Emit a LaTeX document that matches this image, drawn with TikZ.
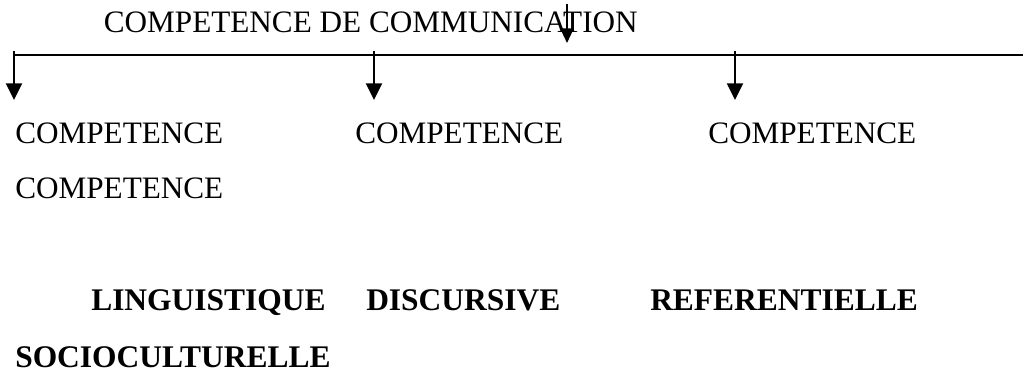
\documentclass[tikz,border=0pt]{standalone}
\usepackage{fontspec}
\setmainfont{Liberation Serif}
\usetikzlibrary{arrows.meta}
\tikzset{
  caption/.style={anchor=base west,inner sep=0pt,font=\fontsize{23.4}{28}\selectfont},
  keyword/.style={caption,font=\fontsize{23.6}{28}\selectfont\bfseries},
  bar/.style={line width=1.5pt},
  drop/.style={line width=1.5pt,-{Triangle[width=12pt,length=12.5pt]}},
  topdrop/.style={line width=1.5pt,-{Triangle[width=10pt,length=11pt]}}
}

\begin{document}
\begin{tikzpicture}[x=0.75pt,y=-0.75pt]
  \useasboundingbox (0,0) rectangle (1030,372);
  % title and its arrow
  \node[caption,anchor=base east] (title) at (638,32) {COMPETENCE DE COMMUNICATION};
  \coordinate (in) at (567,4);
  \coordinate (out) at (567,43);
  \draw[topdrop] (in) -- (out);
  % horizontal bar
  \coordinate (barL) at (13.3,55);
  \coordinate (barR) at (1023,55);
  \draw[bar] (barL) -- (barR);
  % drops to the three branches
  \foreach \name/\x in {ling/14,disc/374,ref/735}{
    \coordinate (\name-top) at (\x,51);
    \coordinate (\name-tip) at (\x,100);
    \draw[drop] (\name-top) -- (\name-tip);
  }
  % branch labels
  \node[caption] (comp1) at (15,143) {COMPETENCE};
  \node[caption] (comp2) at (355,143) {COMPETENCE};
  \node[caption] (comp3) at (708,143) {COMPETENCE};
  \node[caption] (comp4) at (15,198) {COMPETENCE};
  \node[keyword] (ling) at (91,310) {LINGUISTIQUE};
  \node[keyword] (disc) at (366,310) {DISCURSIVE};
  \node[keyword] (ref) at (650,310) {REFERENTIELLE};
  \node[keyword] (socio) at (15,367) {SOCIOCULTURELLE};
\end{tikzpicture}
\end{document}
